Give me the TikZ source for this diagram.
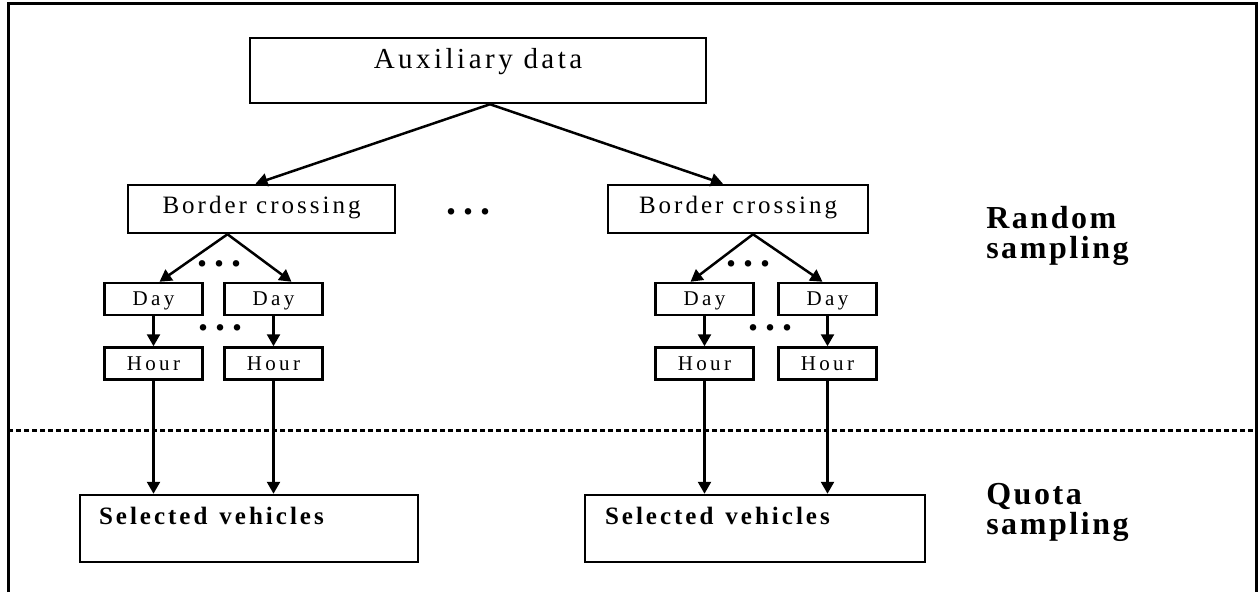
\documentclass[tikz,border=0pt]{standalone}
\usepackage{fontspec}
\setmainfont{Liberation Serif}
\newfontfamily\boxfont[LetterSpace=12]{Liberation Serif}
\newfontfamily\smallfont[LetterSpace=16]{Liberation Serif}
\newfontfamily\heavyfont[LetterSpace=8]{Liberation Serif}
\usetikzlibrary{arrows.meta}

\begin{document}
\begin{tikzpicture}[x=1pt,y=-1pt,->,>={Triangle[length=12pt,width=13pt]},line width=2.5pt,
                main node/.style={draw,rectangle,inner sep=0pt,line width=2.5pt},
                aux node/.style={main node,minimum width=456pt,minimum height=65pt,
                    font=\boxfont\fontsize{29}{32}\selectfont,text height=20pt,text depth=23.5pt},
                bc node/.style={main node,minimum width=267pt,minimum height=48pt,
                    font=\boxfont\fontsize{25}{28}\selectfont,text height=17pt,text depth=9pt},
                day node/.style={main node,minimum width=98pt,minimum height=32pt,
                    font=\smallfont\fontsize{21}{24}\selectfont,text height=14pt,text depth=1pt},
                sel node/.style={main node,minimum width=338pt,minimum height=67pt,
                    font=\boxfont\bfseries\fontsize{25}{28}\selectfont,text width=300pt,align=left,
                    text height=17pt,text depth=25pt},
                side label/.style={anchor=west,align=left,inner sep=0pt,
                    font=\heavyfont\bfseries\fontsize{32}{30}\selectfont},
                dots node/.style={inner sep=0pt,font=\bfseries\fontsize{40}{40}\selectfont}]
            \useasboundingbox (0,0) rectangle (1259,592);
            % frame and split line
            \draw[-,line width=3pt] (8,592) -- (8,3) -- (1256,3) -- (1256,592);
            \draw[-,line width=3pt,dash pattern=on 5pt off 3pt] (8,430) -- (1256,430);
            % boxes
            \node[aux node] (aux) at (478,70.5) {Auxiliary data};
            \node[bc node] (bc1) at (261.5,209) {Border crossing};
            \node[bc node,minimum width=260pt] (bc2) at (738,209) {Border crossing};
            \node[day node] (d1) at (153.5,299) {Day};
            \node[day node] (d2) at (273.5,299) {Day};
            \node[day node] (d3) at (704.5,299) {Day};
            \node[day node] (d4) at (827.5,299) {Day};
            \node[day node] (h1) at (153.5,363.5) {Hour};
            \node[day node] (h2) at (273.5,363.5) {Hour};
            \node[day node] (h3) at (704.5,363.5) {Hour};
            \node[day node] (h4) at (827.5,363.5) {Hour};
            \node[sel node] (s1) at (249,528.5) {Selected\kern12pt vehicles};
            \node[sel node,minimum width=340pt] (s2) at (755,528.5) {Selected\kern12pt vehicles};
            % dots
            \node[dots node] (dt0) at (468,212) {.\hspace{7pt}.\hspace{7pt}.};
            \node[dots node] (dt1) at (219,264) {.\hspace{7pt}.\hspace{7pt}.};
            \node[dots node] (dt2) at (220,328) {.\hspace{7pt}.\hspace{7pt}.};
            \node[dots node] (dt3) at (748,264) {.\hspace{7pt}.\hspace{7pt}.};
            \node[dots node] (dt4) at (770,328) {.\hspace{7pt}.\hspace{7pt}.};
            % side labels
            \node[side label] (rs) at (985,236) {Random\\sampling};
            \node[side label] (qs) at (985,512) {Quota\\sampling};
            % arrows
            \draw ([xshift=12pt]aux.south) -- ([xshift=-6pt]bc1.north);
            \draw ([xshift=12pt]aux.south) -- ([xshift=-15pt]bc2.north);
            \draw ([xshift=-34pt]bc1.south) -- ([xshift=6pt]d1.north);
            \draw ([xshift=-34pt]bc1.south) -- ([xshift=18pt]d2.north);
            \draw ([xshift=15pt]bc2.south) -- ([xshift=-14pt]d3.north);
            \draw ([xshift=15pt]bc2.south) -- ([xshift=-5pt]d4.north);
            \foreach \i in {1,...,4}
                \draw (d\i.south) -- (h\i.north);
            \draw (h1.south) -- (h1.south |- s1.north);
            \draw (h2.south) -- (h2.south |- s1.north);
            \draw (h3.south) -- (h3.south |- s2.north);
            \draw (h4.south) -- (h4.south |- s2.north);
        \end{tikzpicture}
\end{document}
